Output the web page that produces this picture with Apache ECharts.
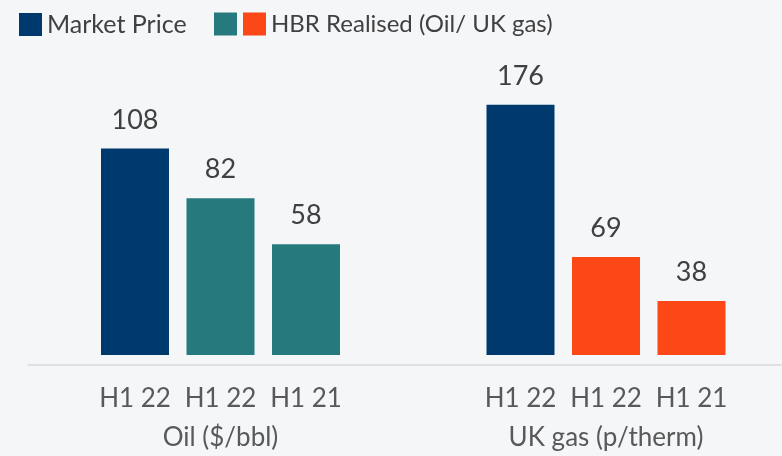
<!DOCTYPE html>
<html>
<head>
<meta charset="utf-8">
<script src="https://cdn.jsdelivr.net/npm/echarts@6/dist/echarts.min.js"></script>
<style>
  html, body { margin: 0; padding: 0; background: #f5f6f8; }
  #chart { width: 782px; height: 456px; }
</style>
</head>
<body>
<div id="chart"></div>
<script>
// 数据
const categories = ['H1 22', 'H1 22', 'H1 21'];
const groupNames = ['Oil ($/bbl)', 'UK gas (p/therm)'];
const oilMarket = [108, '-', '-'];
const oilRealised = ['-', 82, 58];
const gasMarket = [176, '-', '-'];
const gasRealised = ['-', 69, 38];

const NAVY = '#00396e';
const TEAL = '#267a7d';
const ORANGE = '#fc4716';
const FONT = 'Lato';

const gridTop = 11;
const gridH = 354;

function barSeries(name, data, color, idx) {
    return {
        name: name,
        type: 'bar',
        xAxisIndex: idx,
        yAxisIndex: idx,
        data: data,
        barWidth: 68,
        barGap: '-100%',
        itemStyle: {color: color},
        label: {
            show: true,
            position: 'top',
            distance: 15,
            fontFamily: FONT,
            fontSize: 27,
            color: '#404040'
        }
    };
}

function catAxis(idx) {
    return {
        type: 'category',
        gridIndex: idx,
        data: categories,
        axisLine: {show: false},
        axisTick: {show: false},
        axisLabel: {
            interval: 0,
            margin: 31,
            fontFamily: FONT,
            fontSize: 26,
            color: '#595959'
        },
        name: groupNames[idx],
        nameLocation: 'middle',
        nameGap: 70,
        nameTextStyle: {fontFamily: FONT, fontSize: 26, color: '#595959'}
    };
}

let myChart = echarts.init(document.getElementById('chart'));
myChart.setOption({
    backgroundColor: '#f5f6f8',
    animation: false,
    legend: [
        {
            data: ['Market Price'],
            left: 19,
            top: 12,
            padding: 0,
            icon: 'rect',
            itemWidth: 23,
            itemHeight: 23,
            selectedMode: false,
            textStyle: {fontFamily: FONT, fontSize: 25, color: '#404040'}
        },
        {
            data: ['HBR Realised (Oil)', 'HBR Realised (UK gas)'],
            left: 214,
            top: 12,
            padding: 0,
            icon: 'rect',
            itemWidth: 23,
            itemHeight: 23,
            itemGap: 6,
            selectedMode: false,
            formatter: function (name) {
                return name === 'HBR Realised (Oil)' ? '' : 'HBR Realised (Oil/ UK gas)';
            },
            textStyle: {fontFamily: FONT, fontSize: 24, color: '#404040'}
        }
    ],
    grid: [
        {left: 92.25, width: 256.5, top: gridTop, height: gridH},
        {left: 477.75, width: 256.5, top: gridTop, height: gridH},
        {left: 28, right: 0, top: gridTop, height: gridH}
    ],
    xAxis: [
        catAxis(0),
        catAxis(1),
        {
            type: 'category',
            gridIndex: 2,
            data: [''],
            axisLine: {show: true, lineStyle: {color: '#d9d9d9', width: 1.5}},
            axisTick: {show: false},
            axisLabel: {show: false}
        }
    ],
    yAxis: [
        {type: 'value', gridIndex: 0, min: 0, max: 180, show: false, splitLine: {show: false}},
        {type: 'value', gridIndex: 1, min: 0, max: 242, show: false, splitLine: {show: false}},
        {type: 'value', gridIndex: 2, min: 0, max: 1, show: false, splitLine: {show: false}}
    ],
    series: [
        barSeries('Market Price', oilMarket, NAVY, 0),
        barSeries('HBR Realised (Oil)', oilRealised, TEAL, 0),
        barSeries('Market Price', gasMarket, NAVY, 1),
        barSeries('HBR Realised (UK gas)', gasRealised, ORANGE, 1)
    ]
});
</script>
</body>
</html>
